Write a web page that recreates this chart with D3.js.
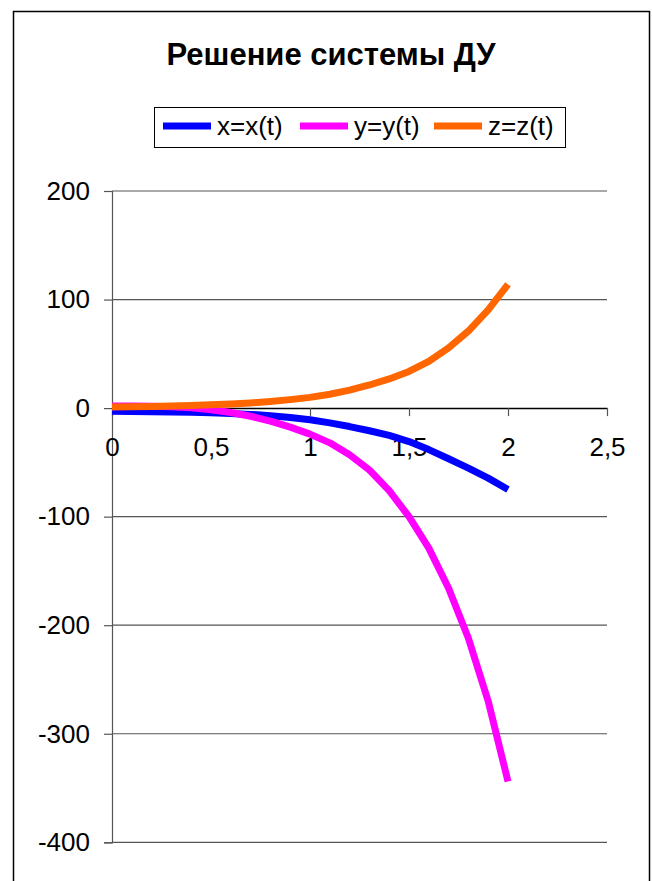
<!DOCTYPE html>
<html>
<head>
<meta charset="utf-8">
<script src="https://cdn.jsdelivr.net/npm/d3@7"></script>
<style>
  body { margin: 0; background: #fff; }
  svg { display: block; font-family: "Liberation Sans", Arial, sans-serif; }
</style>
</head>
<body>
<div id="chart"></div>
<script>
// Решение системы ДУ - x(t), y(t), z(t) on t = 0..2 step 0.1

const tValues = [0, 0.1, 0.2, 0.3, 0.4, 0.5, 0.6, 0.7, 0.8, 0.9, 1.0,
                 1.1, 1.2, 1.3, 1.4, 1.5, 1.6, 1.7, 1.8, 1.9, 2.0];
const xValues = [-3, -3.1, -3.3, -3.6, -3.9, -4.3, -5, -5.8, -7, -8.6, -10.8,
                 -13.6, -17, -20.9, -25.2, -30.8, -38.2, -46.7, -55.3, -64.5, -75];
const yValues = [2, 2, 1.8, 1.3, 0.3, -1.5, -4, -7.5, -12, -17.5, -24,
                 -32, -43, -57, -76, -100, -129, -166, -212, -270, -344];
const zValues = [1, 1.2, 1.5, 1.9, 2.4, 3.0, 3.8, 4.8, 6.1, 7.8, 9.9,
                 12.8, 16.5, 21.3, 26.9, 33.8, 43, 55.5, 71, 90.5, 114];

const seriesNames = ["x=x(t)", "y=y(t)", "z=z(t)"];
const seriesColors = ["#0000ff", "#ff00ff", "#ff6600"];
const xTicks = [0, 0.5, 1, 1.5, 2, 2.5];
const yTicks = [-400, -300, -200, -100, 0, 100, 200];

const width = 652;
const height = 881;

const svg = d3.select("#chart")
    .append("svg")
    .attr("width", width)
    .attr("height", height);

// outer chart border (runs off the bottom edge)
svg.append("rect")
    .attr("x", 13.5)
    .attr("y", 11.5)
    .attr("width", 636)
    .attr("height", 900)
    .attr("fill", "none")
    .attr("stroke", "#000")
    .attr("stroke-width", 1.5);

// title
svg.append("text")
    .attr("x", 331)
    .attr("y", 65)
    .attr("text-anchor", "middle")
    .style("font-size", "31px")
    .style("font-weight", "bold")
    .text("Решение системы ДУ");

// scales
const x = d3.scaleLinear().domain([0, 2.5]).range([112, 607]);
const y = d3.scaleLinear().domain([-400, 200]).range([842.3, 191]);

// horizontal gridlines
svg.append("g")
    .selectAll("line")
    .data(yTicks.filter(d => d !== 0))
    .enter()
    .append("line")
    .attr("x1", x(0))
    .attr("x2", x(2.5))
    .attr("y1", d => y(d))
    .attr("y2", d => y(d))
    .attr("stroke", "#555")
    .attr("stroke-width", 1.2);

// y axis
const yAxis = svg.append("g")
    .attr("transform", `translate(${x(0)},0)`)
    .call(d3.axisLeft(y).tickValues(yTicks).tickSize(8).tickPadding(14).tickFormat(d => String(d)));
yAxis.select(".domain").attr("stroke", "#555").attr("stroke-width", 1.2);
yAxis.selectAll(".tick line").attr("stroke", "#555").attr("stroke-width", 1.2);
yAxis.selectAll("text")
    .style("font-size", "26px")
    .style("font-family", "Liberation Sans, Arial, sans-serif")
    .attr("fill", "#000");

// x axis at y = 0
const xAxis = svg.append("g")
    .attr("transform", `translate(0,${y(0)})`)
    .call(d3.axisBottom(x).tickValues(xTicks).tickSizeInner(8).tickSizeOuter(0).tickPadding(21)
        .tickFormat(d => String(d).replace(".", ",")));
xAxis.select(".domain").attr("stroke", "#000").attr("stroke-width", 1.5);
xAxis.selectAll(".tick line").attr("stroke", "#555").attr("stroke-width", 1.2);
xAxis.selectAll("text")
    .style("font-size", "26px")
    .style("font-family", "Liberation Sans, Arial, sans-serif")
    .attr("fill", "#000");

// curves
const seriesData = [xValues, yValues, zValues];
const line = d3.line()
    .x((d, i) => x(tValues[i]))
    .y(d => y(d));

svg.append("g")
    .selectAll("path")
    .data(seriesData)
    .enter()
    .append("path")
    .attr("d", line)
    .attr("fill", "none")
    .attr("stroke", (d, i) => seriesColors[i])
    .attr("stroke-width", 7)
    .attr("stroke-linejoin", "round")
    .attr("stroke-linecap", "butt");

// legend
const legend = svg.append("g");
legend.append("rect")
    .attr("x", 154.5)
    .attr("y", 107.5)
    .attr("width", 411)
    .attr("height", 40)
    .attr("fill", "#fff")
    .attr("stroke", "#000")
    .attr("stroke-width", 1);

const legendX = [163, 300, 434];
const items = legend.selectAll(".item")
    .data(seriesNames)
    .enter()
    .append("g")
    .attr("class", "item")
    .attr("transform", (d, i) => `translate(${legendX[i]},126)`);

items.append("line")
    .attr("x1", 0)
    .attr("x2", 48)
    .attr("stroke", (d, i) => seriesColors[i])
    .attr("stroke-width", 7);

items.append("text")
    .attr("x", 54)
    .attr("y", 9)
    .style("font-size", "26px")
    .text(d => d);
</script>
</body>
</html>
